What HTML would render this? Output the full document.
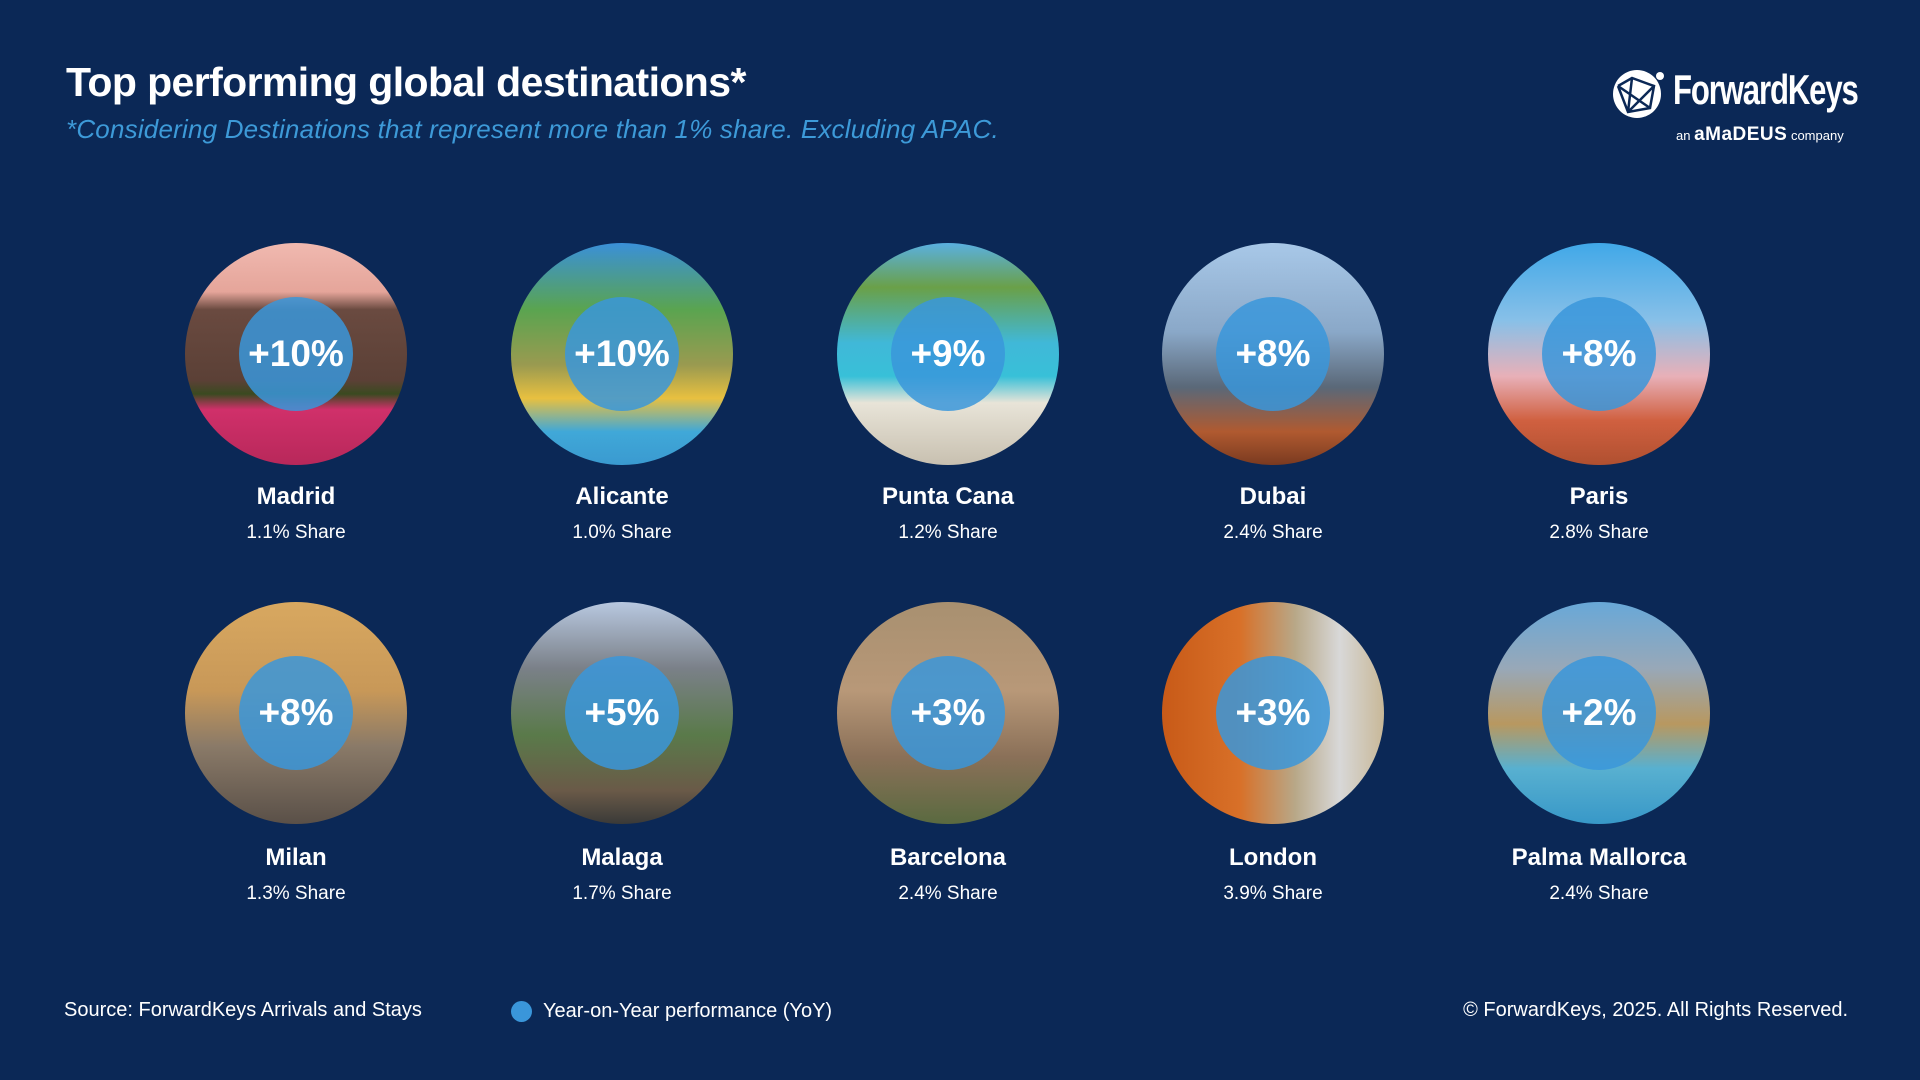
<!DOCTYPE html>
<html><head><meta charset="utf-8"><style>
body{margin:0;width:1920px;height:1080px;background:#0b2856;font-family:"Liberation Sans",sans-serif;color:#fff;position:relative;overflow:hidden}
.t{position:absolute;left:66px;top:59px;font-size:41px;font-weight:bold;letter-spacing:-0.6px}
.s{position:absolute;left:66px;top:114px;font-size:26px;font-style:italic;color:#3d9ad8;letter-spacing:0.2px}
.c{position:absolute;width:222px;height:222px;border-radius:50%;overflow:hidden}
.b{position:absolute;left:54px;top:54px;width:114px;height:114px;border-radius:50%;background:rgba(58,150,218,0.85);display:flex;align-items:center;justify-content:center;font-size:37px;font-weight:bold}
.n{position:absolute;width:300px;text-align:center;font-size:24px;font-weight:bold}
.sh{position:absolute;width:300px;text-align:center;font-size:19px}
.f{position:absolute;top:999px;font-size:20px}
</style></head><body>
<div class="t">Top performing global destinations*</div>
<div class="s">*Considering Destinations that represent more than 1% share. Excluding APAC.</div>
<svg style="position:absolute;left:1610px;top:66px" width="56" height="56" viewBox="0 0 56 56"><circle cx="27" cy="28" r="24" fill="#fff"/><g stroke="#0b2856" stroke-width="2.5" fill="none"><path d="M8 20L22 12L44 20L40 42L18 46L8 20M22 12L18 46M8 20L40 42M44 20L18 46"/></g><circle cx="50" cy="10" r="4" fill="#fff"/></svg>
<div style="position:absolute;left:1673px;top:66px;font-size:42px;font-weight:bold;letter-spacing:-1.5px;transform:scaleX(0.74);transform-origin:left">ForwardKeys</div>
<div style="position:absolute;left:1676px;top:124px;font-size:13px">an <b style="font-size:19px;letter-spacing:0.5px">aMaDEUS</b> company</div>

<div class="c" style="left:185px;top:243px;background:linear-gradient(#f0b9b0 0%,#e5a59a 22%,#6a4a40 30%,#5b4036 62%,#3a4a20 68%,#d0306a 75%,#b8285a 100%)"><div class="b">+10%</div></div>
<div class="c" style="left:511px;top:243px;background:linear-gradient(#3a90d8 0%,#5aa450 30%,#9a9a50 55%,#e8c040 70%,#40a8d8 85%,#3a9ad0 100%)"><div class="b">+10%</div></div>
<div class="c" style="left:837px;top:243px;background:linear-gradient(#5ab0e0 0%,#6aa048 20%,#40b8d8 45%,#38c0d8 60%,#e8e4d8 72%,#c8c0b0 100%)"><div class="b">+9%</div></div>
<div class="c" style="left:1162px;top:243px;background:linear-gradient(#a8c8e8 0%,#8aa8c8 40%,#5a6878 65%,#b05a30 85%,#7a3a20 100%)"><div class="b">+8%</div></div>
<div class="c" style="left:1488px;top:243px;background:linear-gradient(#40a8e8 0%,#88c0e8 35%,#e8b0b8 60%,#d06040 80%,#b05030 100%)"><div class="b">+8%</div></div>

<div class="n" style="left:146px;top:483px">Madrid</div><div class="sh" style="left:146px;top:522px">1.1% Share</div>
<div class="n" style="left:472px;top:483px">Alicante</div><div class="sh" style="left:472px;top:522px">1.0% Share</div>
<div class="n" style="left:798px;top:483px">Punta Cana</div><div class="sh" style="left:798px;top:522px">1.2% Share</div>
<div class="n" style="left:1123px;top:483px">Dubai</div><div class="sh" style="left:1123px;top:522px">2.4% Share</div>
<div class="n" style="left:1449px;top:483px">Paris</div><div class="sh" style="left:1449px;top:522px">2.8% Share</div>

<div class="c" style="left:185px;top:602px;background:linear-gradient(#d8a860 0%,#c89858 40%,#8a7a68 65%,#5a5048 100%)"><div class="b">+8%</div></div>
<div class="c" style="left:511px;top:602px;background:linear-gradient(#b8c8e0 0%,#7a8088 30%,#5a7a4a 60%,#6a5a48 85%,#3a3a38 100%)"><div class="b">+5%</div></div>
<div class="c" style="left:837px;top:602px;background:linear-gradient(#a89070 0%,#b89878 40%,#8a7058 70%,#5a6a40 100%)"><div class="b">+3%</div></div>
<div class="c" style="left:1162px;top:602px;background:linear-gradient(90deg,#c85a18 0%,#d87028 35%,#b8a888 60%,#d8d8d8 80%,#c8b898 100%)"><div class="b">+3%</div></div>
<div class="c" style="left:1488px;top:602px;background:linear-gradient(#68a8d8 0%,#98a8b8 30%,#b89860 55%,#58b0d0 75%,#3898c8 100%)"><div class="b">+2%</div></div>

<div class="n" style="left:146px;top:844px">Milan</div><div class="sh" style="left:146px;top:883px">1.3% Share</div>
<div class="n" style="left:472px;top:844px">Malaga</div><div class="sh" style="left:472px;top:883px">1.7% Share</div>
<div class="n" style="left:798px;top:844px">Barcelona</div><div class="sh" style="left:798px;top:883px">2.4% Share</div>
<div class="n" style="left:1123px;top:844px">London</div><div class="sh" style="left:1123px;top:883px">3.9% Share</div>
<div class="n" style="left:1449px;top:844px">Palma Mallorca</div><div class="sh" style="left:1449px;top:883px">2.4% Share</div>

<div class="f" style="left:64px">Source: ForwardKeys Arrivals and Stays</div>
<div style="position:absolute;left:511px;top:1001px;width:21px;height:21px;border-radius:50%;background:#3a96da"></div>
<div class="f" style="left:543px;top:1000px">Year-on-Year performance (YoY)</div>
<div class="f" style="right:72px">© ForwardKeys, 2025. All Rights Reserved.</div>
</body></html>
